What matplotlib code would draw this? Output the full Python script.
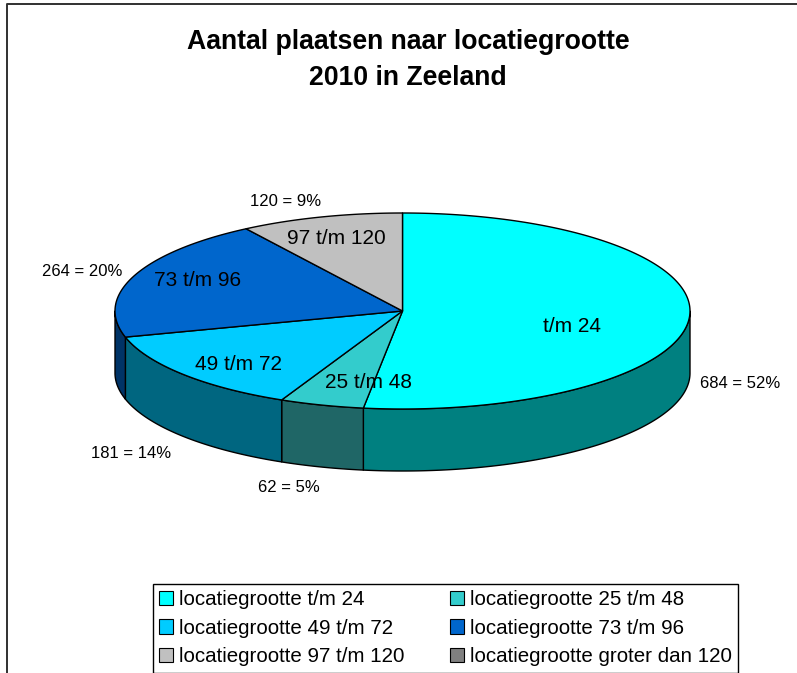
import numpy as np
import matplotlib
matplotlib.use("Agg")
import matplotlib.pyplot as plt
from matplotlib.patches import Patch

plt.rcParams['font.family'] = ['Liberation Sans', 'DejaVu Sans']

# --- Data ---
TITLE = "Aantal plaatsen naar locatiegrootte\n2010 in Zeeland"
names = ["t/m 24", "25 t/m 48", "49 t/m 72", "73 t/m 96", "97 t/m 120", "groter dan 120"]
values = [684, 62, 181, 264, 120, 0]

# --- Style ---
top_colors = ["#00FFFF", "#33CCCC", "#00CCFF", "#0066CC", "#C0C0C0", "#808080"]
side_colors = ["#008080", "#1F6666", "#006680", "#003366", "#606060", "#404040"]

# pie geometry in pixels
CX, CY = 402.5, 311
RX, RY = 287.5, 98
DEPTH = 62

# label positions in pixels (only for the slices that are drawn)
inner_pos = [(572, 327), (369, 383), (239, 365), (198, 281), (336, 239)]
outer_pos = [(740, 384), (289, 487), (131, 453), (82, 271), (286, 201)]


def rim(a, b):
    # points on the top ellipse, angles clockwise from 12 o'clock
    t = np.radians(np.linspace(a, b, max(int(abs(b - a)) * 2, 2)))
    return CX + RX * np.sin(t), CY - RY * np.cos(t)


fig = plt.figure(figsize=(7.97, 6.73), dpi=100)
ax = fig.add_axes([0, 0, 1, 1])
ax.set_xlim(0, 797)
ax.set_ylim(673, 0)
ax.axis("off")

# chart border, only top and left are in the crop
ax.plot([7, 7, 797], [673, 3.5, 3.5], color="#303030", lw=1.4)

total = sum(values)
angles = np.concatenate([[0], np.cumsum(values) / total * 360])

# side walls, only the front half (90..270 degrees) is visible
for i, v in enumerate(values):
    a, b = max(angles[i], 90), min(angles[i + 1], 270)
    if v == 0 or a >= b:
        continue
    x, y = rim(a, b)
    ax.fill(np.r_[x, x[::-1]], np.r_[y, y[::-1] + DEPTH],
            facecolor=side_colors[i], edgecolor="black", lw=1, joinstyle="round")

# top of the pie
for i, v in enumerate(values):
    if v == 0:
        continue
    x, y = rim(angles[i], angles[i + 1])
    ax.fill(np.r_[CX, x], np.r_[CY, y],
            facecolor=top_colors[i], edgecolor="black", lw=1, joinstyle="round")

# labels
for i, v in enumerate(values):
    if v == 0:
        continue
    ax.text(*inner_pos[i], names[i], fontsize=15, ha="center", va="center")
    pct = round(v / total * 100)
    ax.text(*outer_pos[i], f"{v} = {pct}%", fontsize=12, ha="center", va="center")

ax.text(408, 60, TITLE, fontsize=19.2, fontweight="bold", ha="center", va="center",
        linespacing=1.49)

handles = [Patch(facecolor=c, edgecolor="black", lw=0.8) for c in top_colors]
labels = [f"locatiegrootte {n}" for n in names]
# matplotlib fills legend columns first, so reorder to read row by row
order = [0, 2, 4, 1, 3, 5]
ax.legend([handles[i] for i in order], [labels[i] for i in order], ncol=2,
          loc="lower left", bbox_to_anchor=(153, 672.5), bbox_transform=ax.transData,
          borderaxespad=0, fontsize=14.8, frameon=True, fancybox=False,
          edgecolor="black", framealpha=1, handlelength=0.68, handleheight=0.68,
          handletextpad=0.29, columnspacing=2.22, labelspacing=0.47,
          borderpad=0.3)

plt.savefig("out.png", dpi=100)
